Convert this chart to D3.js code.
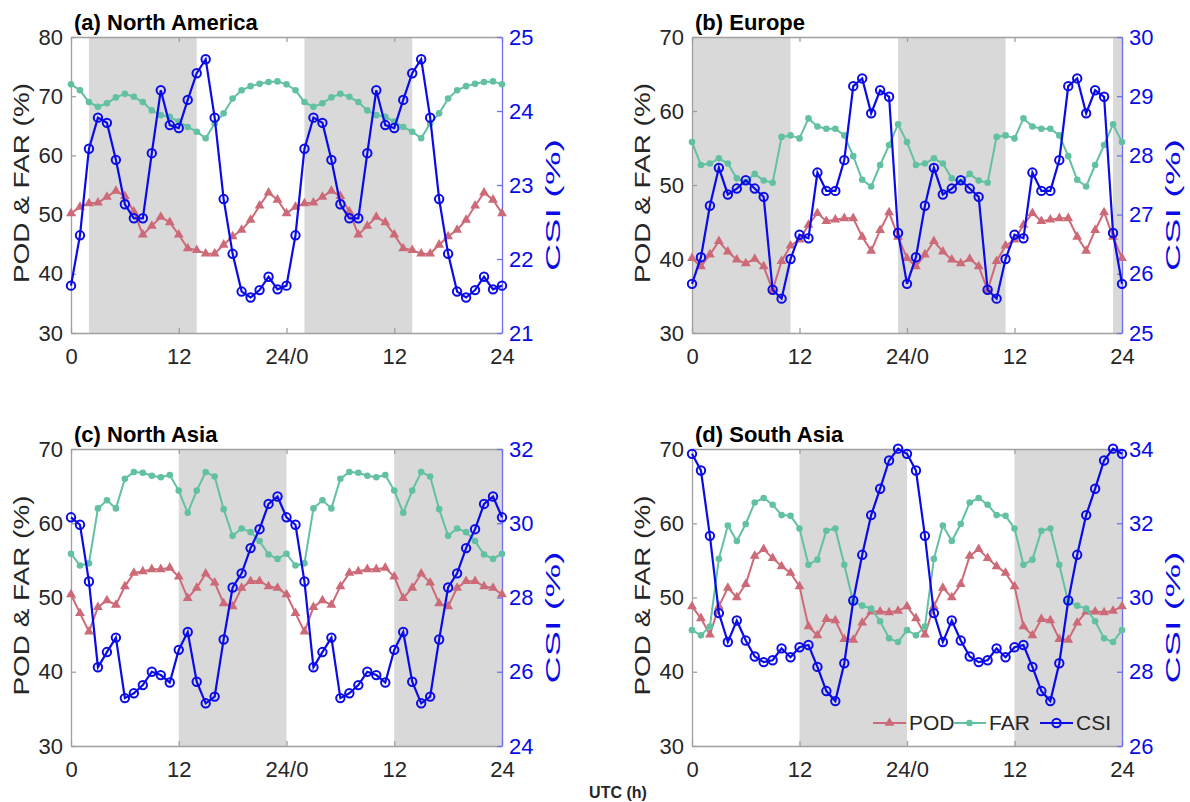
<!DOCTYPE html>
<html>
<head>
<meta charset="utf-8">
<script src="https://cdn.jsdelivr.net/npm/d3@7"></script>
<style>
  body { margin: 0; background: #fff; }
  text { font-family: "Liberation Sans", Arial, Helvetica, sans-serif; }
</style>
</head>
<body>
<svg id="chart" width="1190" height="802"></svg>
<script>
// hourly values for one day (0..23 UTC); the figure shows two identical days
const hourTicks = [0, 12, 24, 36, 48];
const hourLabels = ['0', '12', '24/0', '12', '24'];
const seriesNames = ['POD', 'FAR', 'CSI'];

const podNA = [50.2, 51.3, 51.9, 52.0, 53.0, 54.0, 53.1, 50.5, 46.6, 48.1, 49.6, 48.7, 46.6, 44.3, 44.0, 43.4, 43.4, 44.9, 46.3, 47.4, 49.1, 51.5, 53.7, 52.5];
const farNA = [72.0, 71.0, 69.0, 68.2, 68.8, 69.8, 70.4, 69.9, 69.0, 67.6, 66.8, 66.5, 65.7, 64.8, 64.0, 62.9, 65.4, 67.1, 69.6, 71.0, 71.7, 72.1, 72.4, 72.5];
const csiNA = [21.64, 22.32, 23.49, 23.91, 23.84, 23.34, 22.74, 22.55, 22.55, 23.43, 24.28, 23.81, 23.77, 24.15, 24.51, 24.70, 23.91, 22.81, 22.07, 21.56, 21.48, 21.58, 21.76, 21.59];

const podEU = [40.1, 39.0, 40.6, 42.4, 41.0, 39.9, 39.4, 40.0, 39.0, 35.8, 39.7, 41.8, 42.6, 44.6, 46.2, 45.1, 45.3, 45.5, 45.5, 43.0, 41.1, 43.9, 46.3, 43.0];
const farEU = [55.8, 52.7, 52.9, 53.6, 52.9, 50.9, 50.4, 51.5, 50.6, 50.3, 56.5, 56.7, 56.3, 59.0, 57.9, 57.6, 57.6, 56.7, 53.9, 50.7, 49.8, 52.7, 55.4, 58.2];
const csiEU = [25.83, 26.28, 27.15, 27.79, 27.34, 27.44, 27.58, 27.44, 27.30, 25.73, 25.58, 26.25, 26.66, 26.60, 27.71, 27.40, 27.40, 27.92, 29.17, 29.30, 28.71, 29.10, 28.99, 26.69];

const podNAs = [50.4, 47.9, 45.4, 48.7, 49.6, 49.0, 51.5, 53.3, 53.5, 53.8, 53.8, 54.0, 52.8, 49.9, 51.3, 53.2, 52.0, 49.2, 48.8, 51.3, 52.2, 52.2, 51.5, 51.3];
const farNAs = [55.9, 54.3, 54.6, 62.0, 63.1, 62.0, 66.0, 66.9, 66.8, 66.4, 66.2, 66.5, 64.4, 61.4, 64.4, 66.9, 66.3, 61.9, 58.3, 59.3, 58.8, 57.6, 55.8, 55.2];
const csiNAs = [30.16, 29.96, 28.43, 26.12, 26.53, 26.92, 25.29, 25.42, 25.64, 26.00, 25.91, 25.71, 26.59, 27.07, 25.73, 25.15, 25.33, 26.87, 28.27, 28.65, 29.33, 29.84, 30.52, 30.72];

const podSAs = [48.8, 47.2, 45.0, 48.8, 51.3, 50.0, 51.8, 55.6, 56.5, 55.3, 54.2, 53.3, 51.5, 46.1, 44.9, 47.1, 46.9, 44.4, 44.3, 46.6, 48.1, 48.1, 48.0, 48.2];
const farSAs = [45.6, 44.9, 46.1, 55.2, 59.7, 57.6, 59.9, 62.8, 63.4, 62.5, 61.1, 61.0, 59.3, 54.4, 55.1, 59.0, 59.3, 54.4, 49.4, 48.9, 48.5, 46.8, 44.5, 44.0];
const csiSAs = [33.87, 33.42, 31.66, 29.58, 28.80, 29.38, 28.84, 28.41, 28.26, 28.31, 28.63, 28.39, 28.66, 28.72, 28.13, 27.48, 27.21, 28.23, 29.92, 31.15, 32.22, 32.93, 33.69, 34.01];

// shaded (night) hour spans on the 0..48 axis
const nightNA = [[2, 14], [26, 38]];
const nightEU = [[0, 11], [23, 35], [47, 48]];
const nightNAs = [[12, 24], [36, 48]];
const nightSAs = [[12, 24], [36, 48]];

const podColor = '#cd6a78';
const farColor = '#62c1a2';
const csiColor = '#0b0be8';
const textColor = '#262626';
const axisColor = '#a0a0a0';

// two days + closing point at 24 UTC
const twoDays = (day) => [...day, ...day, day[0]];

const panels = [
  { title: '(a) North America', pod: podNA, far: farNA, csi: csiNA, night: nightNA,
    leftDomain: [30, 80], leftTicks: [30, 40, 50, 60, 70, 80], rightDomain: [21, 25], rightTicks: [21, 22, 23, 24, 25],
    left: 71, right: 502, top: 37, bottom: 333 },
  { title: '(b) Europe', pod: podEU, far: farEU, csi: csiEU, night: nightEU,
    leftDomain: [30, 70], leftTicks: [30, 40, 50, 60, 70], rightDomain: [25, 30], rightTicks: [25, 26, 27, 28, 29, 30],
    left: 692, right: 1122, top: 37, bottom: 333 },
  { title: '(c) North Asia', pod: podNAs, far: farNAs, csi: csiNAs, night: nightNAs,
    leftDomain: [30, 70], leftTicks: [30, 40, 50, 60, 70], rightDomain: [24, 32], rightTicks: [24, 26, 28, 30, 32],
    left: 71, right: 502, top: 449, bottom: 746 },
  { title: '(d) South Asia', pod: podSAs, far: farSAs, csi: csiSAs, night: nightSAs,
    leftDomain: [30, 70], leftTicks: [30, 40, 50, 60, 70], rightDomain: [26, 34], rightTicks: [26, 28, 30, 32, 34],
    left: 692, right: 1122, top: 449, bottom: 746, legend: true },
];

const svg = d3.select('#chart');

panels.forEach((p) => {
  const x = d3.scaleLinear().domain([0, 48]).range([p.left, p.right]);
  const y = d3.scaleLinear().domain(p.leftDomain).range([p.bottom, p.top]);
  const y2 = d3.scaleLinear().domain(p.rightDomain).range([p.bottom, p.top]);

  const g = svg.append('g');

  g.selectAll('rect.night')
    .data(p.night)
    .join('rect')
    .attr('class', 'night')
    .attr('x', (d) => x(d[0]))
    .attr('width', (d) => x(d[1]) - x(d[0]))
    .attr('y', p.top)
    .attr('height', p.bottom - p.top)
    .attr('fill', '#d9d9d9');

  // bottom / top / left / right axes (MATLAB style, ticks inside)
  const xAxis = g.append('g')
    .attr('transform', `translate(0,${p.bottom})`)
    .call(d3.axisBottom(x).tickValues(hourTicks).tickFormat((d, i) => hourLabels[i])
      .tickSizeInner(-5).tickSizeOuter(0).tickPadding(15));

  const topAxis = g.append('g')
    .attr('transform', `translate(0,${p.top})`)
    .call(d3.axisTop(x).tickValues(hourTicks).tickFormat('')
      .tickSizeInner(-5).tickSizeOuter(0));

  const yAxis = g.append('g')
    .attr('transform', `translate(${p.left},0)`)
    .call(d3.axisLeft(y).tickValues(p.leftTicks).tickFormat(d3.format('d'))
      .tickSizeInner(-5).tickSizeOuter(0).tickPadding(8));

  const y2Axis = g.append('g')
    .attr('transform', `translate(${p.right},0)`)
    .call(d3.axisRight(y2).tickValues(p.rightTicks).tickFormat(d3.format('d'))
      .tickSizeInner(-5).tickSizeOuter(0).tickPadding(7));

  [xAxis, topAxis, yAxis].forEach((a) => {
    a.selectAll('.domain, .tick line').attr('stroke', axisColor).attr('stroke-width', 1.3);
    a.selectAll('text').attr('fill', textColor).attr('font-size', 22);
  });
  y2Axis.selectAll('.domain, .tick line').attr('stroke', '#6f6ff5').attr('stroke-width', 1.3);
  y2Axis.selectAll('text').attr('fill', csiColor).attr('font-size', 22);

  const line = (scale) => d3.line().x((d, i) => x(i)).y((d) => scale(d));

  const pod = twoDays(p.pod);
  const far = twoDays(p.far);
  const csi = twoDays(p.csi);

  g.append('path').datum(pod)
    .attr('d', line(y)).attr('fill', 'none')
    .attr('stroke', podColor).attr('stroke-width', 2);
  g.selectAll('path.pod')
    .data(pod)
    .join('path')
    .attr('class', 'pod')
    .attr('d', d3.symbol(d3.symbolTriangle, 42))
    .attr('transform', (d, i) => `translate(${x(i)},${y(d)})`)
    .attr('fill', podColor);

  g.append('path').datum(far)
    .attr('d', line(y)).attr('fill', 'none')
    .attr('stroke', farColor).attr('stroke-width', 2);
  g.selectAll('circle.far')
    .data(far)
    .join('circle')
    .attr('class', 'far')
    .attr('cx', (d, i) => x(i))
    .attr('cy', (d) => y(d))
    .attr('r', 3.3)
    .attr('fill', farColor);

  g.append('path').datum(csi)
    .attr('d', line(y2)).attr('fill', 'none')
    .attr('stroke', csiColor).attr('stroke-width', 2.2);
  g.selectAll('circle.csi')
    .data(csi)
    .join('circle')
    .attr('class', 'csi')
    .attr('cx', (d, i) => x(i))
    .attr('cy', (d) => y2(d))
    .attr('r', 4.2)
    .attr('fill', 'none')
    .attr('stroke', csiColor)
    .attr('stroke-width', 2);

  // titles and axis labels
  g.append('text')
    .attr('x', p.left + 3)
    .attr('y', p.top - 7)
    .attr('font-size', 22)
    .attr('font-weight', 'bold')
    .attr('fill', '#000')
    .text(p.title);

  const cy = (p.top + p.bottom) / 2;
  g.append('text')
    .attr('transform', `translate(${p.left - 50},${cy - 2}) rotate(-90)`)
    .attr('text-anchor', 'middle')
    .attr('dy', '0.35em')
    .attr('font-size', 22)
    .attr('textLength', 200)
    .attr('lengthAdjust', 'spacingAndGlyphs')
    .attr('fill', textColor)
    .text('POD & FAR (%)');

  g.append('text')
    .attr('transform', `translate(${p.right + 51},${cy + 20}) rotate(-90)`)
    .attr('text-anchor', 'middle')
    .attr('dy', '0.35em')
    .attr('font-size', 21)
    .attr('textLength', 132)
    .attr('lengthAdjust', 'spacingAndGlyphs')
    .attr('fill', csiColor)
    .text('CSI (%)');

  if (p.legend) {
    const ly = 723;
    const items = [
      { name: seriesNames[0], color: podColor, x0: 873 },
      { name: seriesNames[1], color: farColor, x0: 953 },
      { name: seriesNames[2], color: csiColor, x0: 1040 },
    ];
    const lg = g.append('g');
    items.forEach((it, k) => {
      lg.append('line')
        .attr('x1', it.x0).attr('x2', it.x0 + 33)
        .attr('y1', ly).attr('y2', ly)
        .attr('stroke', it.color).attr('stroke-width', 2);
      const mx = it.x0 + 16.5;
      if (k === 0) {
        lg.append('path').attr('d', d3.symbol(d3.symbolTriangle, 42))
          .attr('transform', `translate(${mx},${ly})`).attr('fill', it.color);
      } else if (k === 1) {
        lg.append('circle').attr('cx', mx).attr('cy', ly).attr('r', 3.3).attr('fill', it.color);
      } else {
        lg.append('circle').attr('cx', mx).attr('cy', ly).attr('r', 4.2)
          .attr('fill', 'none').attr('stroke', it.color).attr('stroke-width', 2);
      }
      lg.append('text')
        .attr('x', it.x0 + 36)
        .attr('y', ly)
        .attr('dy', '0.35em')
        .attr('font-size', 21)
        .attr('fill', textColor)
        .text(it.name);
    });
  }
});

svg.append('text')
  .attr('x', 618)
  .attr('y', 798)
  .attr('text-anchor', 'middle')
  .attr('font-size', 16)
  .attr('font-weight', 'bold')
  .attr('fill', textColor)
  .text('UTC (h)');
</script>
</body>
</html>
